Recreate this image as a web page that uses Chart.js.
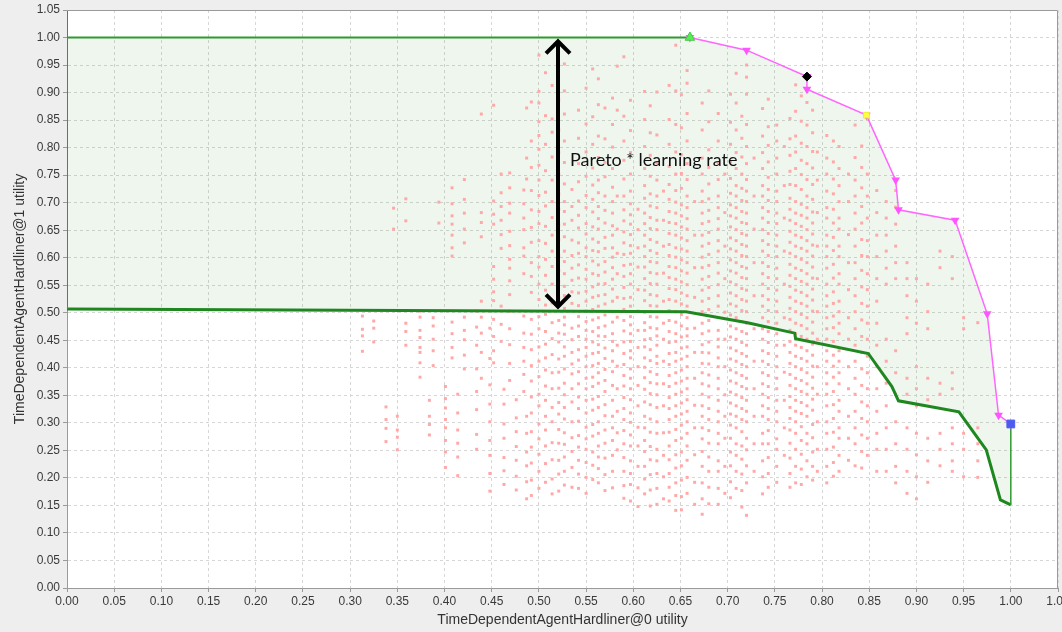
<!DOCTYPE html>
<html>
<head>
<meta charset="utf-8">
<script src="https://cdn.jsdelivr.net/npm/chart.js@4.4.0/dist/chart.umd.min.js"></script>
<style>
  html, body { margin: 0; padding: 0; background: #eeeeee; }
</style>
</head>
<body>
<canvas id="myChart" width="1062" height="632"></canvas>
<script>
// 분포 점들 (열 단위 x값 + 각 열의 y값)
const cloudX = [0.313,0.325,0.338,0.346,0.350,0.359,0.374,0.384,0.388,0.394,0.401,0.408,0.414,0.421,0.434,0.439,0.448,0.452,0.460,0.463,0.469,0.476,0.484,0.487,0.500,0.514,0.527,0.535,0.550,0.563,0.578,0.583,0.597,0.605,0.612,0.625,0.632,0.645,0.657,0.665,0.673,0.690,0.697,0.709,0.720,0.728,0.737,0.752,0.760,0.772,0.784,0.795,0.805,0.818,0.828,0.835,0.848,0.858,0.868,0.878,0.890,0.900,0.912,0.925,0.938,0.950,0.965,
  0.492,0.507,0.521,0.542,0.557,0.570,0.590,0.618,0.638,0.651,0.680,0.703,0.715,0.743,0.766,0.778,0.790,0.812,0.842];
const cloudY = [
  [0.494,0.470,0.458,0.430],
  [0.485,0.472,0.447],
  [0.329,0.306,0.290,0.266],
  [0.690,0.652],
  [0.312,0.287,0.274,0.251],
  [0.707,0.667,0.481,0.466,0.441],
  [0.503,0.492,0.468,0.455,0.437,0.428,0.409,0.383],
  [0.341,0.312,0.297,0.278],
  [0.491,0.476,0.452,0.431,0.404],
  [0.701,0.663],
  [0.366,0.344,0.327,0.306,0.291,0.268,0.247,0.219],
  [0.727,0.698,0.676,0.661,0.641,0.618,0.603,0.483,0.462,0.437,0.418],
  [0.352,0.318,0.287,0.263,0.238,0.204],
  [0.742,0.706,0.681,0.652,0.627,0.492,0.468,0.451,0.423,0.398],
  [0.503,0.474,0.441,0.398,0.357,0.324,0.279,0.252],
  [0.861,0.682,0.664,0.638,0.521,0.492,0.463,0.428,0.381],
  [0.472,0.417,0.369,0.334,0.302,0.268,0.241,0.208,0.176],
  [0.877,0.703,0.679,0.661,0.584,0.561,0.538,0.522,0.488,0.457,0.431,0.409],
  [0.752,0.718,0.693,0.668,0.642,0.617,0.512,0.479,0.448],
  [0.361,0.334,0.298,0.272,0.237,0.213,0.188],
  [0.754,0.727,0.699,0.681,0.648,0.622,0.597,0.581,0.558,0.533,0.503,0.471,0.442,0.408,0.377],
  [0.342,0.309,0.284,0.257,0.232,0.203,0.178],
  [0.723,0.698,0.672,0.651,0.618,0.603,0.571,0.494,0.463,0.437,0.412,0.388,0.357],
  [0.872,0.781,0.743,0.312,0.281,0.247,0.222,0.193,0.162],
  [0.968,0.902,0.881,0.847,0.822,0.797,0.768,0.741,0.713,0.684,0.662,0.631,0.602,0.583,0.552,0.524,0.493,0.471,0.438,0.412,0.384,0.352,0.331,0.298,0.271,0.243,0.212,0.181],
  [0.913,0.852,0.828,0.783,0.741,0.702,0.673,0.641,0.612,0.584,0.552,0.518,0.482,0.453,0.424,0.391,0.362,0.328,0.302,0.264,0.233,0.198,0.171],
  [0.952,0.903,0.861,0.812,0.773,0.734,0.702,0.684,0.661,0.638,0.612,0.593,0.571,0.548,0.531,0.508,0.492,0.478,0.461,0.438,0.421,0.398,0.372,0.351,0.328,0.307,0.282,0.261,0.238,0.212,0.187],
  [0.724,0.693,0.668,0.632,0.604,0.581,0.559,0.538,0.517,0.472,0.451,0.428,0.407,0.389,0.362,0.338,0.302,0.273,0.248,0.219,0.183],
  [0.908,0.843,0.792,0.748,0.713,0.691,0.662,0.643,0.618,0.602,0.579,0.561,0.539,0.521,0.503,0.484,0.468,0.452,0.437,0.421,0.402,0.381,0.362,0.341,0.318,0.292,0.271,0.252,0.228,0.201,0.172],
  [0.925,0.878,0.821,0.782,0.741,0.718,0.693,0.671,0.652,0.628,0.611,0.587,0.568,0.552,0.531,0.512,0.491,0.473,0.458,0.442,0.428,0.408,0.391,0.372,0.348,0.328,0.302,0.281,0.258,0.238,0.217,0.191],
  [0.890,0.842,0.801,0.762,0.728,0.702,0.681,0.658,0.641,0.618,0.601,0.582,0.561,0.543,0.521,0.502,0.483,0.462,0.448,0.431,0.412,0.393,0.368,0.341,0.312,0.291,0.268,0.241,0.212,0.182],
  [0.948,0.868,0.712,0.652,0.608,0.571,0.528,0.492,0.441,0.403,0.362,0.321,0.282,0.251],
  [0.886,0.831,0.791,0.752,0.721,0.698,0.678,0.661,0.642,0.622,0.608,0.588,0.571,0.552,0.528,0.512,0.493,0.478,0.462,0.448,0.431,0.418,0.398,0.381,0.362,0.342,0.318,0.301,0.278,0.258,0.231,0.208,0.188,0.158],
  [0.688,0.651,0.618,0.583,0.542,0.503,0.468,0.437,0.402,0.368,0.331,0.292,0.258,0.221,0.182,0.148],
  [0.902,0.851,0.802,0.762,0.731,0.708,0.681,0.662,0.641,0.621,0.602,0.583,0.562,0.541,0.522,0.501,0.482,0.468,0.451,0.438,0.418,0.401,0.382,0.361,0.338,0.312,0.291,0.268,0.248,0.221,0.198,0.171],
  [0.901,0.823,0.772,0.741,0.712,0.691,0.668,0.651,0.628,0.608,0.591,0.571,0.552,0.531,0.512,0.492,0.471,0.458,0.441,0.421,0.408,0.388,0.371,0.351,0.328,0.302,0.281,0.252,0.231,0.208,0.181,0.152],
  [0.721,0.668,0.621,0.572,0.521,0.481,0.452,0.412,0.371,0.331,0.282,0.241,0.202,0.162],
  [0.986,0.903,0.842,0.792,0.752,0.722,0.701,0.681,0.662,0.641,0.618,0.601,0.582,0.561,0.542,0.521,0.502,0.483,0.462,0.448,0.428,0.412,0.391,0.372,0.352,0.331,0.312,0.288,0.268,0.242,0.218,0.191,0.168,0.141],
  [0.940,0.917,0.862,0.812,0.771,0.742,0.712,0.691,0.671,0.652,0.631,0.612,0.591,0.572,0.551,0.531,0.512,0.491,0.471,0.458,0.438,0.421,0.402,0.381,0.362,0.342,0.321,0.302,0.281,0.258,0.232,0.201,0.172],
  [0.702,0.641,0.582,0.528,0.472,0.428,0.381,0.332,0.291,0.242,0.192,0.152],
  [0.881,0.832,0.781,0.752,0.721,0.702,0.681,0.662,0.641,0.621,0.601,0.582,0.561,0.541,0.521,0.502,0.481,0.462,0.442,0.428,0.408,0.391,0.371,0.352,0.331,0.312,0.291,0.271,0.248,0.221,0.191,0.162,0.134],
  [0.862,0.812,0.771,0.742,0.712,0.691,0.671,0.652,0.631,0.612,0.591,0.572,0.551,0.531,0.512,0.491,0.468,0.452,0.438,0.418,0.402,0.381,0.362,0.341,0.321,0.302,0.281,0.262,0.231,0.212,0.181,0.152],
  [0.752,0.682,0.621,0.562,0.501,0.452,0.402,0.351,0.312,0.272,0.221,0.172],
  [0.935,0.881,0.832,0.791,0.762,0.731,0.712,0.691,0.672,0.651,0.631,0.612,0.591,0.572,0.551,0.531,0.512,0.491,0.471,0.452,0.431,0.412,0.391,0.372,0.351,0.331,0.312,0.291,0.262,0.241,0.212,0.181],
  [0.950,0.928,0.897,0.842,0.802,0.771,0.742,0.721,0.702,0.681,0.662,0.641,0.621,0.602,0.581,0.562,0.541,0.521,0.502,0.481,0.462,0.441,0.421,0.402,0.381,0.362,0.341,0.321,0.302,0.272,0.251,0.222,0.191,0.132],
  [0.781,0.712,0.652,0.591,0.531,0.471,0.412,0.362,0.312,0.262,0.212],
  [0.871,0.821,0.791,0.762,0.731,0.712,0.691,0.672,0.651,0.631,0.612,0.591,0.571,0.552,0.531,0.512,0.491,0.471,0.452,0.431,0.412,0.391,0.371,0.352,0.331,0.312,0.281,0.262,0.231,0.202,0.171],
  [0.841,0.812,0.781,0.752,0.721,0.702,0.681,0.662,0.641,0.621,0.602,0.581,0.562,0.541,0.521,0.502,0.481,0.462,0.441,0.421,0.402,0.381,0.362,0.341,0.321,0.302,0.271,0.252,0.221,0.192],
  [0.802,0.731,0.672,0.612,0.552,0.491,0.441,0.392,0.341,0.291,0.241],
  [0.914,0.866,0.821,0.792,0.762,0.731,0.702,0.681,0.662,0.641,0.621,0.602,0.581,0.562,0.541,0.521,0.502,0.481,0.462,0.441,0.421,0.402,0.381,0.362,0.341,0.321,0.302,0.281,0.252,0.221,0.191],
  [0.882,0.841,0.802,0.771,0.742,0.712,0.691,0.672,0.651,0.631,0.612,0.591,0.571,0.552,0.531,0.512,0.491,0.471,0.452,0.431,0.412,0.391,0.371,0.352,0.331,0.312,0.281,0.262,0.231,0.202],
  [0.792,0.741,0.682,0.621,0.562,0.502,0.452,0.402,0.352,0.302,0.252,0.212],
  [0.822,0.781,0.752,0.721,0.691,0.672,0.641,0.621,0.602,0.581,0.552,0.531,0.512,0.491,0.471,0.452,0.431,0.412,0.391,0.371,0.352,0.331,0.302,0.281,0.252,0.221,0.191],
  [0.802,0.762,0.731,0.702,0.672,0.652,0.621,0.602,0.571,0.552,0.521,0.502,0.481,0.462,0.431,0.412,0.391,0.371,0.341,0.321,0.291,0.272,0.241,0.212],
  [0.752,0.702,0.642,0.591,0.542,0.491,0.452,0.402,0.362,0.312,0.272,0.232],
  [0.841,0.782,0.741,0.712,0.681,0.652,0.621,0.591,0.562,0.531,0.502,0.471,0.441,0.412,0.381,0.352,0.321,0.291,0.262,0.222],
  [0.752,0.712,0.672,0.631,0.602,0.571,0.542,0.512,0.481,0.452,0.421,0.391,0.362,0.331,0.302,0.272,0.241],
  [0.722,0.682,0.641,0.602,0.562,0.521,0.481,0.441,0.402,0.362,0.321,0.281,0.252,0.212],
  [0.702,0.672,0.641,0.612,0.581,0.552,0.452,0.412,0.372,0.331,0.291,0.252,0.212],
  [0.722,0.692,0.661,0.621,0.591,0.562,0.431,0.391,0.352,0.302,0.262,0.221,0.191],
  [0.591,0.562,0.531,0.491,0.462,0.381,0.352,0.291,0.252,0.212,0.172],
  [0.562,0.521,0.481,0.402,0.362,0.331,0.281,0.242,0.202,0.162],
  [0.552,0.502,0.471,0.381,0.342,0.272,0.231,0.192],
  [0.612,0.582,0.372,0.352,0.281,0.252,0.222],
  [0.602,0.562,0.391,0.362,0.291,0.262,0.231,0.212],
  [0.491,0.471,0.281,0.252,0.202],
  [0.482,0.291,0.262,0.231,0.201],
  [0.883,0.812,0.764,0.722,0.687,0.655,0.628,0.591,0.566,0.537,0.488,0.461,0.433,0.404,0.376,0.347,0.318,0.284,0.256,0.227,0.196,0.168],
  [0.936,0.858,0.806,0.758,0.719,0.694,0.657,0.626,0.597,0.568,0.541,0.514,0.497,0.466,0.443,0.418,0.396,0.367,0.341,0.312,0.287,0.258,0.226,0.192],
  [0.887,0.832,0.791,0.752,0.716,0.688,0.659,0.633,0.604,0.577,0.556,0.527,0.486,0.463,0.447,0.416,0.392,0.363,0.337,0.316,0.288,0.263,0.232,0.207,0.176],
  [0.868,0.817,0.771,0.738,0.703,0.677,0.654,0.627,0.608,0.587,0.563,0.536,0.513,0.493,0.476,0.457,0.433,0.414,0.393,0.371,0.347,0.326,0.303,0.277,0.256,0.232,0.207,0.181],
  [0.943,0.856,0.806,0.763,0.732,0.706,0.683,0.656,0.634,0.613,0.594,0.571,0.547,0.528,0.506,0.487,0.466,0.447,0.426,0.404,0.383,0.366,0.343,0.323,0.297,0.276,0.247,0.223,0.197],
  [0.872,0.816,0.773,0.747,0.712,0.686,0.663,0.637,0.617,0.593,0.574,0.553,0.533,0.516,0.496,0.476,0.457,0.436,0.417,0.397,0.377,0.357,0.333,0.313,0.287,0.263,0.236,0.206,0.177],
  [0.965,0.857,0.812,0.777,0.743,0.712,0.687,0.667,0.647,0.627,0.606,0.586,0.566,0.546,0.526,0.506,0.486,0.467,0.447,0.426,0.406,0.386,0.367,0.346,0.326,0.306,0.286,0.262,0.237,0.212,0.186,0.163],
  [0.876,0.827,0.786,0.748,0.716,0.694,0.673,0.653,0.633,0.613,0.593,0.573,0.553,0.533,0.513,0.493,0.473,0.453,0.433,0.413,0.393,0.373,0.353,0.333,0.307,0.283,0.257,0.233,0.206,0.178,0.149],
  [0.913,0.851,0.806,0.766,0.733,0.706,0.684,0.664,0.644,0.624,0.604,0.584,0.564,0.544,0.524,0.504,0.486,0.466,0.446,0.426,0.406,0.386,0.366,0.346,0.326,0.306,0.283,0.258,0.233,0.208,0.183,0.158],
  [0.896,0.836,0.787,0.753,0.726,0.696,0.676,0.656,0.636,0.616,0.596,0.576,0.556,0.536,0.516,0.497,0.476,0.456,0.436,0.416,0.396,0.376,0.356,0.336,0.316,0.296,0.272,0.247,0.222,0.196,0.166,0.142],
  [0.903,0.847,0.796,0.764,0.734,0.707,0.686,0.666,0.646,0.626,0.606,0.586,0.566,0.546,0.526,0.506,0.486,0.467,0.447,0.427,0.407,0.387,0.367,0.347,0.326,0.306,0.286,0.263,0.238,0.212,0.183,0.153],
  [0.897,0.846,0.806,0.774,0.744,0.717,0.696,0.676,0.656,0.636,0.616,0.596,0.576,0.556,0.536,0.516,0.496,0.476,0.456,0.436,0.416,0.396,0.376,0.356,0.336,0.316,0.296,0.272,0.247,0.222,0.193,0.164],
  [0.857,0.817,0.783,0.752,0.726,0.704,0.684,0.664,0.644,0.624,0.604,0.584,0.564,0.544,0.524,0.504,0.484,0.466,0.446,0.426,0.406,0.386,0.366,0.346,0.326,0.306,0.284,0.258,0.234,0.207,0.177,0.147],
  [0.888,0.838,0.804,0.774,0.746,0.724,0.704,0.684,0.664,0.644,0.624,0.604,0.584,0.564,0.544,0.524,0.504,0.484,0.466,0.446,0.426,0.406,0.386,0.366,0.346,0.326,0.306,0.286,0.262,0.237,0.208,0.183],
  [0.853,0.816,0.786,0.757,0.733,0.708,0.688,0.668,0.648,0.628,0.608,0.588,0.568,0.548,0.528,0.508,0.488,0.468,0.448,0.428,0.408,0.388,0.368,0.348,0.328,0.308,0.287,0.263,0.236,0.208,0.183],
  [0.894,0.848,0.808,0.777,0.751,0.724,0.697,0.677,0.657,0.637,0.617,0.597,0.577,0.557,0.537,0.517,0.497,0.477,0.457,0.437,0.417,0.397,0.377,0.357,0.337,0.317,0.293,0.268,0.243,0.216,0.188],
  [0.868,0.827,0.793,0.763,0.733,0.706,0.683,0.663,0.643,0.623,0.603,0.583,0.563,0.543,0.523,0.503,0.483,0.463,0.443,0.423,0.403,0.383,0.363,0.343,0.323,0.297,0.273,0.247,0.221,0.196],
  [0.812,0.774,0.743,0.716,0.688,0.663,0.637,0.613,0.588,0.563,0.538,0.517,0.494,0.473,0.448,0.423,0.403,0.383,0.357,0.333,0.308,0.283,0.256,0.228,0.203],
  [0.803,0.764,0.727,0.693,0.663,0.633,0.604,0.577,0.547,0.517,0.487,0.457,0.428,0.398,0.368,0.338,0.308,0.278,0.248,0.218]
];

// 파레토 경계 (분홍선)
const paretoX = [0.660,0.720,0.784,0.784,0.847,0.878,0.881,0.941,0.975,0.987,1.000];
const paretoY = [1.000,0.977,0.929,0.906,0.859,0.741,0.687,0.668,0.498,0.314,0.298];

// 초록 선들
const topLineX = [0.000,0.660];
const topLineY = [1.000,1.000];
const lowerX = [0.000,0.656,0.721,0.771,0.772,0.849,0.874,0.881,0.945,0.974,0.989,1.000];
const lowerY = [0.507,0.502,0.482,0.463,0.453,0.426,0.366,0.340,0.320,0.251,0.160,0.151];
const leftEdgeX = [0.000,0.000];
const leftEdgeY = [0.507,1.050];
const rightEdgeX = [1.000,1.000];
const rightEdgeY = [0.151,0.298];

// 표시점
const greenMark = [0.660, 1.000];
const blackMark = [0.784, 0.929];
const yellowMark = [0.847, 0.859];
const blueMark = [1.000, 0.298];

// 화살표와 주석
const arrowX = 0.52;
const arrowY = [0.993, 0.511];
const noteX = 0.533;
const noteY = 0.777;
const noteText = 'Pareto * learning rate';

const pts = (xs, ys) => xs.map((x, i) => ({ x: x, y: ys[i] }));

const cloudPts = [];
cloudX.forEach((x, i) => cloudY[i].forEach(y => cloudPts.push({ x: x, y: y })));

// 채움 영역: 위쪽 경계 + 파레토 + 아래선(역순)
const fillPts = pts(topLineX, topLineY)
  .concat(pts(paretoX, paretoY))
  .concat(pts(lowerX, lowerY).reverse());

const axisFont = { family: 'Liberation Sans', size: 12 };
const titleFont = { family: 'Liberation Sans', size: 14 };

// 배경, 테두리, 화살표
const backdrop = {
  id: 'backdrop',
  beforeDraw(chart) {
    const { ctx, chartArea: a } = chart;
    ctx.save();
    ctx.fillStyle = '#eeeeee';
    ctx.fillRect(0, 0, chart.width, chart.height);
    ctx.fillStyle = '#ffffff';
    ctx.fillRect(a.left, a.top, a.right - a.left, a.bottom - a.top);
    ctx.restore();
  },
  afterDatasetsDraw(chart) {
    const { ctx, chartArea: a, scales: { x, y } } = chart;
    ctx.save();
    ctx.strokeStyle = '#9a9a9a';
    ctx.lineWidth = 1;
    ctx.beginPath();
    ctx.moveTo(a.left, a.top + 0.5);
    ctx.lineTo(a.right - 0.5, a.top + 0.5);
    ctx.lineTo(a.right - 0.5, a.bottom);
    ctx.stroke();

    const px = Math.round(x.getPixelForValue(arrowX));
    const y1 = y.getPixelForValue(arrowY[0]);
    const y2 = y.getPixelForValue(arrowY[1]);
    ctx.strokeStyle = '#000000';
    ctx.lineWidth = 4;
    ctx.lineJoin = 'miter';
    ctx.beginPath();
    ctx.moveTo(px, y1 + 1);
    ctx.lineTo(px, y2 - 1);
    ctx.stroke();
    ctx.beginPath();
    ctx.moveTo(px - 12, y1 + 12);
    ctx.lineTo(px, y1);
    ctx.lineTo(px + 12, y1 + 12);
    ctx.moveTo(px - 12, y2 - 12);
    ctx.lineTo(px, y2);
    ctx.lineTo(px + 12, y2 - 12);
    ctx.stroke();

    ctx.fillStyle = '#111111';
    ctx.font = '18px Lato';
    ctx.textAlign = 'left';
    ctx.textBaseline = 'middle';
    ctx.fillText(noteText, x.getPixelForValue(noteX), y.getPixelForValue(noteY));
    ctx.restore();
  }
};

const ctx = document.getElementById('myChart').getContext('2d');
const myChart = new Chart(ctx, {
  type: 'scatter',
  data: {
    datasets: [
      { label: 'green', data: [{ x: greenMark[0], y: greenMark[1] }], pointStyle: 'triangle', pointRadius: 5.5,
        backgroundColor: '#55ee55', borderColor: '#44cc44', borderWidth: 1, order: 1 },
      { label: 'black', data: [{ x: blackMark[0], y: blackMark[1] }], pointStyle: 'rectRot', pointRadius: 4.5,
        backgroundColor: '#000000', borderColor: '#000000', borderWidth: 1, order: 1 },
      { label: 'yellow', data: [{ x: yellowMark[0], y: yellowMark[1] }], pointStyle: 'rect', pointRadius: 4,
        backgroundColor: '#ffff44', borderColor: '#eeee22', borderWidth: 1, order: 1 },
      { label: 'blue', data: [{ x: blueMark[0], y: blueMark[1] }], pointStyle: 'rect', pointRadius: 5.5,
        backgroundColor: '#4d5af2', borderColor: '#4d5af2', borderWidth: 1, order: 1 },
      { label: 'pareto', data: pts(paretoX, paretoY), showLine: true, borderColor: '#ff66ff', borderWidth: 1.5,
        pointStyle: 'triangle', rotation: 180, pointRadius: 5, backgroundColor: '#ff55ff', pointBorderWidth: 0, order: 2 },
      { label: 'top', data: pts(topLineX, topLineY), showLine: true, borderColor: '#2f9a2f', borderWidth: 2,
        pointRadius: 0, order: 3 },
      { label: 'left', data: pts(leftEdgeX, leftEdgeY), showLine: true, borderColor: '#2f9a2f', borderWidth: 2,
        pointRadius: 0, order: 3 },
      { label: 'right', data: pts(rightEdgeX, rightEdgeY), showLine: true, borderColor: '#2f9a2f', borderWidth: 1.5,
        pointRadius: 0, order: 3 },
      { label: 'lower', data: pts(lowerX, lowerY), showLine: true, borderColor: '#1f871f', borderWidth: 3,
        pointRadius: 0, order: 3 },
      { label: 'cloud', data: cloudPts, pointStyle: 'rect', pointRadius: 2.1, backgroundColor: '#ffa8a8',
        borderWidth: 0, order: 5 },
      { label: 'area', data: fillPts, showLine: true, fill: 'shape', borderWidth: 0, borderColor: 'rgba(0,0,0,0)',
        backgroundColor: 'rgba(34,139,34,0.08)', pointRadius: 0, order: 9 }
    ]
  },
  options: {
    responsive: false,
    animation: false,
    layout: { autoPadding: false, padding: { top: 10, right: 4, left: 0, bottom: 0 } },
    plugins: { legend: { display: false }, tooltip: { enabled: false } },
    scales: {
      x: {
        type: 'linear', min: 0, max: 1.05,
        ticks: { stepSize: 0.05, autoSkip: false, maxRotation: 0, padding: 2, color: '#3a3a3a', font: axisFont,
                 callback: v => v.toFixed(2) },
        grid: { color: '#d6d6d6', tickColor: '#9a9a9a', tickLength: 4 },
        border: { color: '#9a9a9a', dash: [3, 3] },
        title: { display: true, text: 'TimeDependentAgentHardliner@0 utility', color: '#333333',
                 font: titleFont, padding: { top: 0, bottom: 3 } },
        afterFit: s => { s.height = 44; s.paddingLeft = 0; s.paddingRight = 0; }
      },
      y: {
        type: 'linear', min: 0, max: 1.05,
        ticks: { stepSize: 0.05, autoSkip: false, padding: 3, color: '#3a3a3a', font: axisFont,
                 callback: v => v.toFixed(2) },
        grid: { color: '#d6d6d6', tickColor: '#9a9a9a', tickLength: 4 },
        border: { color: '#9a9a9a', dash: [3, 3] },
        title: { display: true, text: 'TimeDependentAgentHardliner@1 utility', color: '#333333',
                 font: titleFont, padding: { top: 12, bottom: 0 } },
        afterFit: s => { s.width = 67; s.paddingTop = 0; s.paddingBottom = 0; }
      }
    }
  },
  plugins: [backdrop]
});
</script>
</body>
</html>
